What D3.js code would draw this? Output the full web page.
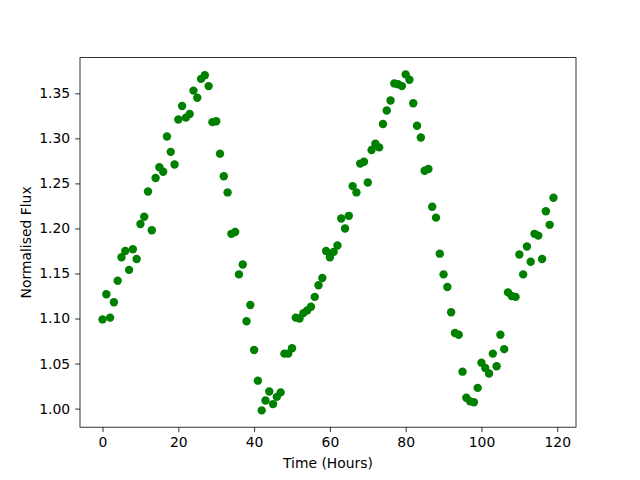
<!DOCTYPE html>
<html>
<head>
<meta charset="utf-8">
<script src="https://cdn.jsdelivr.net/npm/d3@7"></script>
<style>
  body { margin: 0; background: #fff; }
  svg { font-family: "DejaVu Sans", sans-serif; }
</style>
</head>
<body>
<div id="chart"></div>
<script>
// hourly samples
var hours = d3.range(0, 120);
var flux = [
    1.099, 1.127, 1.101, 1.118, 1.142, 1.168, 1.175, 1.154, 1.177, 1.166,
    1.205, 1.213, 1.241, 1.198, 1.256, 1.268, 1.263, 1.302, 1.285, 1.271,
    1.321, 1.336, 1.323, 1.327, 1.353, 1.345, 1.366, 1.370, 1.358, 1.318,
    1.319, 1.283, 1.258, 1.240, 1.194, 1.196, 1.149, 1.160, 1.097, 1.115,
    1.065, 1.031, 0.998, 1.009, 1.019, 1.005, 1.013, 1.018, 1.061, 1.061,
    1.067, 1.101, 1.100, 1.106, 1.109, 1.113, 1.124, 1.137, 1.145, 1.175,
    1.168, 1.174, 1.181, 1.211, 1.200, 1.214, 1.247, 1.240, 1.272, 1.274,
    1.251, 1.287, 1.294, 1.290, 1.316, 1.331, 1.342, 1.361, 1.360, 1.358,
    1.371, 1.365, 1.339, 1.314, 1.301, 1.264, 1.266, 1.224, 1.212, 1.172,
    1.149, 1.135, 1.107, 1.084, 1.082, 1.041, 1.012, 1.008, 1.007, 1.023,
    1.051, 1.045, 1.039, 1.061, 1.047, 1.082, 1.066, 1.129, 1.125, 1.124,
    1.171, 1.149, 1.180, 1.163, 1.194, 1.192, 1.166, 1.219, 1.204, 1.234
];
var xTicks = [0, 20, 40, 60, 80, 100, 120];
var yTicks = [1.00, 1.05, 1.10, 1.15, 1.20, 1.25, 1.30, 1.35];

var W = 640, H = 480
  , margin = {top: 57.6, right: 64, bottom: 52.8, left: 80}
  , width = W - margin.left - margin.right
  , height = H - margin.top - margin.bottom
;

// matplotlib style 5% padding
var xExt = d3.extent(hours), yExt = d3.extent(flux)
  , xPad = (xExt[1] - xExt[0]) * 0.05
  , yPad = (yExt[1] - yExt[0]) * 0.05
;
var x = d3.scaleLinear()
    .domain([xExt[0] - xPad, xExt[1] + xPad])
    .range([0, width]);
var y = d3.scaleLinear()
    .domain([yExt[0] - yPad, yExt[1] + yPad])
    .range([height, 0]);

var svg = d3.select("#chart").append("svg")
    .attr("width", W)
    .attr("height", H);

var g = svg.append("g")
    .attr("transform", "translate(" + margin.left + "," + margin.top + ")");

g.selectAll("circle.pt")
    .data(hours)
  .enter().append("circle")
    .attr("class", "pt")
    .attr("cx", function(d) { return x(d); })
    .attr("cy", function(d, i) { return y(flux[i]); })
    .attr("r", 4.2)
    .attr("fill", "#008000");

var xAxis = d3.axisBottom(x)
    .tickValues(xTicks)
    .tickFormat(d3.format("d"))
    .tickSizeInner(4.9)
    .tickSizeOuter(0)
    .tickPadding(4.9);
var yAxis = d3.axisLeft(y)
    .tickValues(yTicks)
    .tickFormat(d3.format(".2f"))
    .tickSizeInner(4.9)
    .tickSizeOuter(0)
    .tickPadding(4.9);

var gx = g.append("g")
    .attr("transform", "translate(0," + height + ")")
    .call(xAxis);
var gy = g.append("g")
    .call(yAxis);

[gx, gy].forEach(function(a) {
    a.select(".domain").remove();
    a.selectAll(".tick line").attr("stroke", "#000").attr("stroke-width", 0.8);
    a.selectAll(".tick text")
        .attr("fill", "#000")
        .style("font-size", "13.9px")
        .style("font-family", "DejaVu Sans");
});

// frame
g.append("rect")
    .attr("width", width)
    .attr("height", height)
    .attr("fill", "none")
    .attr("stroke", "#000")
    .attr("stroke-width", 0.8);

svg.append("text")
    .attr("x", margin.left + width / 2)
    .attr("y", 468)
    .attr("text-anchor", "middle")
    .style("font-size", "13.9px")
    .text("Time (Hours)");

svg.append("text")
    .attr("transform", "translate(31," + (margin.top + height / 2) + ") rotate(-90)")
    .attr("text-anchor", "middle")
    .style("font-size", "13.9px")
    .text("Normalised Flux");
</script>
</body>
</html>
